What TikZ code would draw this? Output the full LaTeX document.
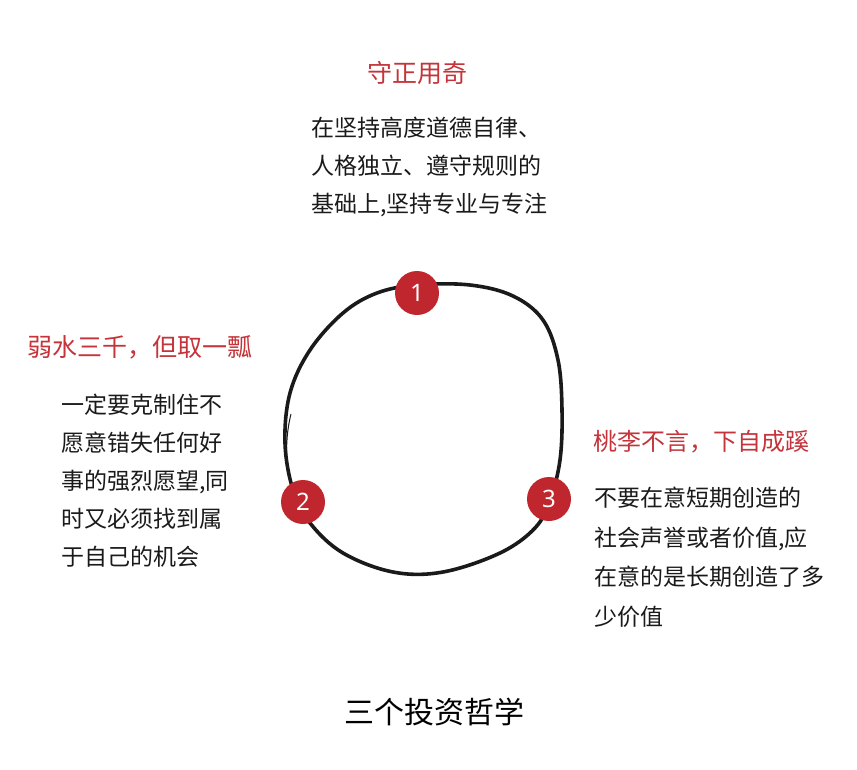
\documentclass[tikz,border=0pt]{standalone}
\usepackage{fontspec}
\setmainfont{Noto Sans}
\newfontfamily\cjk{Noto Sans CJK SC}
\definecolor{badgered}{HTML}{C0262D}
\definecolor{headred}{HTML}{C4343A}
\definecolor{ink}{HTML}{1A1A1A}
\begin{document}
\begin{tikzpicture}[x=1pt,y=-1pt,
  heading/.style={text=headred,font=\cjk\fontsize{25}{30}\selectfont,inner sep=0pt},
  body/.style={text=ink,font=\cjk\fontsize{23}{38}\selectfont,align=left,anchor=north west,inner sep=0pt},
  badge/.style={circle,fill=badgered,minimum size=44pt,inner sep=0pt,text=white,font=\fontsize{24}{24}\selectfont},
  ring/.style={line width=3.6pt,ink,line cap=round}]
\useasboundingbox (0,0) rectangle (857,769);
\fill[white] (0,0) rectangle (857,769);
% ring
\draw[ring] plot[smooth cycle,tension=0.6] coordinates {
  (417,285) (470,285) (513,296) (543,320) (558,360) (562,410) (560,460)
  (550,500) (535,528) (500,553) (443,572) (393,572) (343,553) (310,523)
  (293,490) (285,443) (290,393) (310,350) (343,313) (377,293)};
\draw[line width=1pt,ink] (291,414) .. controls (287,430) and (286,445) .. (287,462);
% badges
\node[badge] (b1) at (417,293) {1};
\node[badge] (b2) at (303,502) {2};
\node[badge] (b3) at (549,499) {3};
% headings
\node[heading] (h1) at (417,73) {守正用奇};
\node[heading] (h2) at (140,347) {弱水三千，但取一瓢};
\node[heading,font=\cjk\fontsize{24}{30}\selectfont] (h3) at (701,442) {桃李不言，下自成蹊};
% bodies
\node[body] (t1) at (311,117) {在坚持高度道德自律、\\人格独立、遵守规则的\\基础上,坚持专业与专注};
\node[body] (t2) at (61,394) {一定要克制住不\\愿意错失任何好\\事的强烈愿望,同\\时又必须找到属\\于自己的机会};
\node[body,font=\cjk\fontsize{23}{39.5}\selectfont] (t3) at (594,487) {不要在意短期创造的\\社会声誉或者价值,应\\在意的是长期创造了多\\少价值};
% caption
\node[text=black,font=\cjk\fontsize{30}{36}\selectfont,inner sep=0pt] (cap) at (434,712) {三个投资哲学};
\end{tikzpicture}
\end{document}
